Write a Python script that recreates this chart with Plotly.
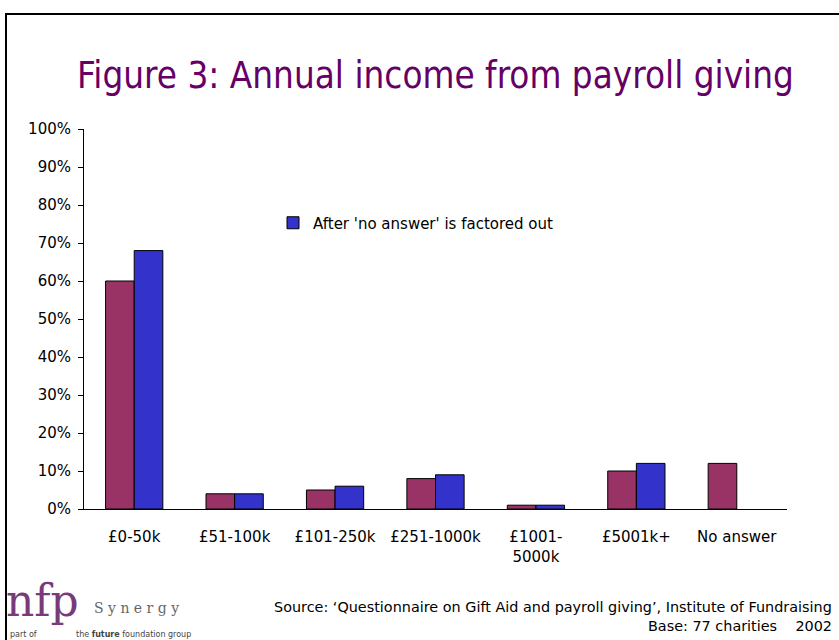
import plotly.graph_objects as go

categories = ["£0-50k", "£51-100k", "£101-250k", "£251-1000k", "£1001-<br>5000k", "£5001k+", "No answer"]
all_responses = [0.60, 0.04, 0.05, 0.08, 0.01, 0.10, 0.12]
factored_out = [0.68, 0.04, 0.06, 0.09, 0.01, 0.12, None]
y_ticks = [i / 10 for i in range(11)]

FONT = "DejaVu Sans"
W, H = 839, 640
L, R, T, B = 84, 52, 129, 131
pw, ph = W - L - R, H - T - B

def px(x):
    return (x - L) / pw

def py(y):
    return (H - B - y) / ph

fig = go.Figure()
fig.add_trace(go.Bar(x=categories, y=all_responses, name="All responses", showlegend=False,
                     marker=dict(color="#993366", line=dict(color="#000000", width=1))))
fig.add_trace(go.Bar(x=categories, y=factored_out, name="After 'no answer' is factored out",
                     marker=dict(color="#3333CC", line=dict(color="#000000", width=1))))

fig.update_layout(
    width=W, height=H,
    margin=dict(l=L, r=R, t=T, b=B),
    paper_bgcolor="white", plot_bgcolor="white",
    barmode="group", bargap=0.43, bargroupgap=0,
    font=dict(family=FONT, size=15, color="#000000"),
    showlegend=True,
    legend=dict(x=px(273), y=py(223), xanchor="left", yanchor="middle",
                bgcolor="rgba(0,0,0,0)", font=dict(size=15), itemwidth=30),
    title=dict(text="Figure 3: Annual income from payroll giving", x=0.5, xref="paper",
               y=1 - 75 / H, yanchor="middle", xanchor="center",
               font=dict(family="DejaVu Sans Condensed", size=36.5, color="#660066")),
)
fig.update_yaxes(range=[0, 1], tickvals=y_ticks, tickformat=".0%", showgrid=False,
                 showline=True, linecolor="#000000", linewidth=1, ticks="outside",
                 ticklen=5, tickcolor="#000000", zeroline=False, ticklabelstandoff=4)
fig.update_xaxes(showline=True, linecolor="#000000", linewidth=1, ticks="", showgrid=False,
                 ticklabelstandoff=14)

# outer frame
fig.add_shape(type="rect", xref="paper", yref="paper",
              x0=px(6), x1=px(W + 20), y0=py(H + 20), y1=py(14),
              line=dict(color="#000000", width=2), fillcolor="rgba(0,0,0,0)", layer="below")

fig.add_annotation(xref="paper", yref="paper", x=px(834), y=py(607), xanchor="right", yanchor="middle",
                   text="Source: ‘Questionnaire on Gift Aid and payroll giving’, Institute of Fundraising",
                   showarrow=False, font=dict(size=14.4, family=FONT))
fig.add_annotation(xref="paper", yref="paper", x=px(834), y=py(626), xanchor="right", yanchor="middle",
                   text="Base: 77 charities&nbsp;&nbsp;&nbsp;&nbsp;2002",
                   showarrow=False, font=dict(size=14.4, family=FONT))

# logo
fig.add_annotation(xref="paper", yref="paper", x=px(4), y=py(600), xanchor="left", yanchor="middle",
                   text="nfp", showarrow=False,
                   font=dict(size=44, family="DejaVu Serif", color="#7a3a7a"))
fig.add_annotation(xref="paper", yref="paper", x=px(92), y=py(608), xanchor="left", yanchor="middle",
                   text="S y n e r g y", showarrow=False,
                   font=dict(size=14, family="DejaVu Serif", color="#666666"))
fig.add_annotation(xref="paper", yref="paper", x=px(8), y=py(634), xanchor="left", yanchor="middle",
                   text="part of", showarrow=False,
                   font=dict(size=8, family=FONT, color="#444444"))
fig.add_annotation(xref="paper", yref="paper", x=px(74), y=py(634), xanchor="left", yanchor="middle",
                   text="the <b>future</b> foundation group", showarrow=False,
                   font=dict(size=8, family=FONT, color="#444444"))

fig.write_html("out.html")
